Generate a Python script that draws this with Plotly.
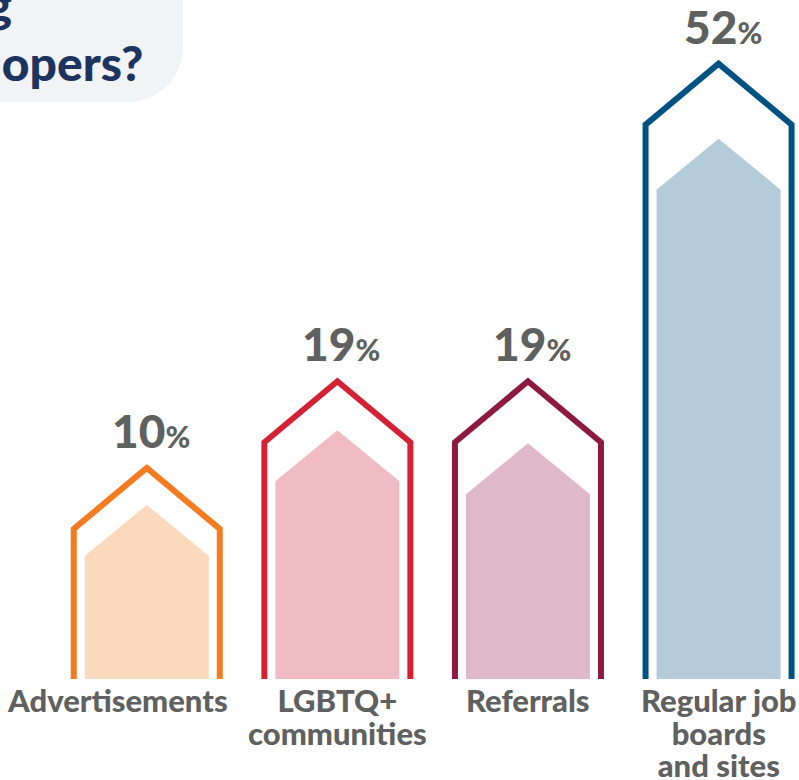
import plotly.graph_objects as go

# ---------------- data ----------------
categories = ["Advertisements", "LGBTQ+\ncommunities", "Referrals", "Regular job\nboards\nand sites"]
values = [10, 19, 19, 52]
title_lines = ["Which channels work best for recruiting", "LGBTQ+ developers?"]

# ---------------- styles ----------------
outline_colors = ["#F47B20", "#D42136", "#8E1A3F", "#005282"]
fill_colors = ["#FAD9BC", "#F0BCC3", "#DFB9C7", "#B4CBD9"]
TEXT_GREY = "#5F6060"
TITLE_NAVY = "#1D3461"
TITLE_BG = "#F2F3F5"
FONT = "Lato"
WEIGHT = 900

W, H = 799, 780
MB = 101
PLOT_H = H - MB
X_RANGE = [-0.770, 3.422]
Y_RANGE = [-5.59, 64.95]
PX_X = W / (X_RANGE[1] - X_RANGE[0])
PX_Y = PLOT_H / (Y_RANGE[1] - Y_RANGE[0])

OUT_HALF_PX, IN_HALF_PX = 73, 62
ROOF_OUT_PX, ROOF_IN_PX = 61, 51
INSET_PX = [27, 39, 52, 65]
LINE_W = 6
LABEL_XSHIFT = [-29, 0, 0, 0]
LABEL_SIZE = 31
LABEL_LINE_BASE = 25   # line spacing = 1.3 * 25 = 32.5 px


def ux(p):
    return p / PX_X


def uy(p):
    return p / PX_Y


fig = go.Figure()
base = Y_RANGE[0]

for i, (v, oc, fc) in enumerate(zip(values, outline_colors, fill_colors)):
    c = i
    # inner filled house
    hi = ux(IN_HALF_PX)
    s = v - uy(INSET_PX[i])
    fig.add_trace(go.Scatter(
        x=[c - hi, c - hi, c, c + hi, c + hi],
        y=[base, s, s + uy(ROOF_IN_PX), s, base],
        mode="lines", fill="toself", fillcolor=fc,
        line=dict(width=0, color=fc), hoverinfo="skip"))
    # outline house
    ho = ux(OUT_HALF_PX)
    fig.add_trace(go.Scatter(
        x=[c - ho, c - ho, c, c + ho, c + ho],
        y=[base, v, v + uy(ROOF_OUT_PX), v, base],
        mode="lines", line=dict(width=LINE_W, color=oc),
        hovertemplate=f"{categories[i].replace(chr(10), ' ')}: {v}%<extra></extra>"))
    # value label
    fig.add_annotation(
        x=c, y=v + uy(ROOF_OUT_PX), xref="x", yref="y",
        text=f"{v}<span style='font-size:30px'>%</span>",
        showarrow=False, xanchor="center", yanchor="bottom",
        xshift=4, yshift=8,
        font=dict(family=FONT, size=46, color=TEXT_GREY, weight=WEIGHT))
    # category label (one text, tight line spacing)
    label_html = "<br>".join(
        f"<span style='font-size:{LABEL_SIZE}px'>{line}</span>"
        for line in categories[i].split("\n"))
    fig.add_annotation(
        x=c, y=0, xref="x", yref="paper",
        text=label_html, showarrow=False, align="center",
        xanchor="center", yanchor="top",
        xshift=LABEL_XSHIFT[i], yshift=0,
        font=dict(family=FONT, size=LABEL_LINE_BASE, color=TEXT_GREY, weight=WEIGHT))


def xp(p):
    return p / W


def yp(p):
    return (PLOT_H - p) / PLOT_H


# title background (rounded box, partly off-canvas)
R = 55
KAP = 0.5523
x0, x1 = -120, 183
y0, y1 = -120, 102
path = (
    f"M {xp(x0)},{yp(y0)} "
    f"L {xp(x1 - R)},{yp(y0)} "
    f"C {xp(x1 - R + KAP * R)},{yp(y0)} {xp(x1)},{yp(y0 + R - KAP * R)} {xp(x1)},{yp(y0 + R)} "
    f"L {xp(x1)},{yp(y1 - R)} "
    f"C {xp(x1)},{yp(y1 - R + KAP * R)} {xp(x1 - R + KAP * R)},{yp(y1)} {xp(x1 - R)},{yp(y1)} "
    f"L {xp(x0)},{yp(y1)} Z"
)
fig.add_shape(type="path", path=path, xref="paper", yref="paper",
              fillcolor=TITLE_BG, line=dict(width=0), layer="below")

title_right_px = [14, 145]
title_top_px = [-27, 32]
for t, rx, ty in zip(title_lines, title_right_px, title_top_px):
    fig.add_annotation(
        x=xp(rx), y=yp(ty), xref="paper", yref="paper",
        text=t, showarrow=False, xanchor="right", yanchor="top",
        font=dict(family=FONT, size=48, color=TITLE_NAVY, weight=WEIGHT))

fig.update_layout(
    width=W, height=H,
    margin=dict(l=0, r=0, t=0, b=MB, pad=0),
    paper_bgcolor="white", plot_bgcolor="white",
    showlegend=False,
    xaxis=dict(range=X_RANGE, visible=False, fixedrange=True),
    yaxis=dict(range=Y_RANGE, visible=False, fixedrange=True),
)

fig.write_html("out.html",
               config={"displayModeBar": False},
               post_script="document.body.style.margin='0';document.body.style.padding='0';")
